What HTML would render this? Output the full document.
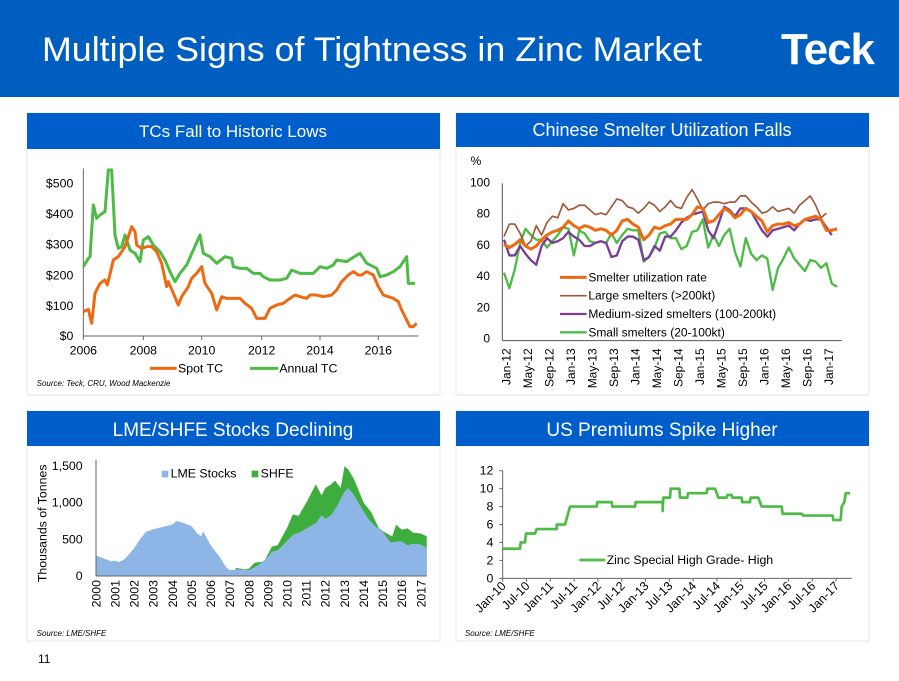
<!DOCTYPE html>
<html><head><meta charset="utf-8"><style>
html,body{margin:0;padding:0;background:#fff;}
body{width:899px;height:676px;overflow:hidden;font-family:"Liberation Sans",Arial,sans-serif;}
</style></head><body>
<svg id="s" width="899" height="676" viewBox="0 0 899 676" xmlns="http://www.w3.org/2000/svg" font-family="Liberation Sans, Arial, sans-serif">
<rect x="0" y="0" width="899" height="97" fill="#005EC0"/>
<text x="42" y="61" font-size="34" fill="#fff" textLength="660" lengthAdjust="spacingAndGlyphs">Multiple Signs of Tightness in Zinc Market</text>
<text x="781" y="64" font-size="44" font-weight="bold" fill="#fff" letter-spacing="-1">Teck</text>

<rect x="27" y="113" width="413" height="282" fill="none" stroke="#e6e6e6"/>
<rect x="456" y="113" width="413" height="282" fill="none" stroke="#e6e6e6"/>
<rect x="27" y="411" width="413" height="230" fill="none" stroke="#e6e6e6"/>
<rect x="456" y="411" width="413" height="230" fill="none" stroke="#e6e6e6"/>
<rect x="27" y="113" width="413" height="36" fill="#005ECB"/>
<rect x="456" y="113" width="413" height="34" fill="#005ECB"/>
<rect x="27" y="411" width="413" height="35" fill="#005ECB"/>
<rect x="456" y="411" width="413" height="35" fill="#005ECB"/>
<text x="233" y="137" font-size="17" fill="#fff" text-anchor="middle" font-family="Liberation Sans Narrow, Liberation Sans, sans-serif">TCs Fall to Historic Lows</text>
<text x="662" y="136" font-size="18" fill="#fff" text-anchor="middle" font-family="Liberation Sans Narrow, Liberation Sans, sans-serif">Chinese Smelter Utilization Falls</text>
<text x="233" y="436" font-size="19" fill="#fff" text-anchor="middle">LME/SHFE Stocks Declining</text>
<text x="662" y="436" font-size="19" fill="#fff" text-anchor="middle">US Premiums Spike Higher</text>
<text x="38" y="663" font-size="12" fill="#000">11</text>

<g id="c1" transform="translate(20,150) scale(0.33333)" font-size="37"></g>
<g id="c2" transform="translate(450,150) scale(0.33333)" font-size="36"></g>
<g id="c3" transform="translate(20,400) scale(0.33333)" font-size="37"></g>
<g id="c4" transform="translate(450,400) scale(0.33333)" font-size="37"></g>
</svg>
<script>
const NS="http://www.w3.org/2000/svg";
function el(g,tag,attrs,txt){const e=document.createElementNS(NS,tag);for(const k in attrs)e.setAttribute(k,attrs[k]);if(txt!==undefined)e.textContent=txt;g.appendChild(e);return e;}
function pl(g,pts,color,w){el(g,"polyline",{points:pts.map(p=>p[0].toFixed(1)+","+p[1].toFixed(1)).join(" "),fill:"none",stroke:color,"stroke-width":w,"stroke-linejoin":"round"});}
const OR="#EE6A12",GR="#4DBB45",BR="#A0573A",PU="#7A3E96";

// Chart 1
(function(){const g=document.getElementById("c1");
el(g,"line",{x1:190,y1:55,x2:190,y2:558,stroke:"#666","stroke-width":3});
el(g,"line",{x1:190,y1:558,x2:1195,y2:558,stroke:"#666","stroke-width":3});
const yl=[["$500",112],["$400",204],["$300",296],["$200",388],["$100",480],["$0",570]];
yl.forEach(a=>el(g,"text",{x:160,y:a[1],"text-anchor":"end"},a[0]));
[190,370,545,725,900,1075].forEach((x,i)=>{el(g,"text",{x:x,y:613,"text-anchor":"middle"},String(2006+2*i));el(g,"line",{x1:x,y1:558,x2:x,y2:570,stroke:"#666","stroke-width":3});});
const spot=[[190,485],[205,478],[215,520],[225,430],[240,400],[255,390],[262,405],[280,330],[295,320],[315,290],[335,230],[345,245],[350,285],[365,295],[380,290],[395,290],[410,305],[425,340],[440,410],[445,395],[460,430],[475,465],[485,440],[505,410],[515,385],[530,370],[545,350],[555,400],[575,430],[590,480],[605,440],[620,445],[640,445],[660,445],[675,460],[695,475],[710,505],[735,505],[750,475],[770,465],[790,460],[810,445],[825,435],[840,440],[860,445],[870,435],[890,435],[910,440],[935,435],[950,420],[965,395],[985,375],[1000,365],[1015,375],[1025,375],[1040,365],[1060,375],[1075,410],[1090,435],[1105,440],[1120,445],[1135,455],[1145,480],[1160,510],[1170,530],[1180,530],[1190,520]];
const ann=[[190,350],[205,325],[210,320],[220,165],[230,205],[240,195],[255,185],[265,60],[275,60],[285,255],[295,295],[305,290],[315,255],[330,300],[345,310],[360,335],[370,270],[385,260],[400,285],[420,305],[435,330],[450,365],[465,395],[480,370],[500,345],[520,300],[540,255],[550,310],[570,320],[590,340],[615,320],[635,325],[640,350],[660,355],[680,355],[700,370],[720,370],[730,380],[750,390],[780,390],[800,385],[815,360],[840,370],[880,370],[900,350],[920,355],[940,345],[950,330],[980,335],[995,325],[1020,310],[1040,340],[1070,355],[1080,380],[1100,375],[1120,365],[1140,350],[1160,320],[1165,400],[1185,400]];
pl(g,ann,GR,9);pl(g,spot,OR,9);
el(g,"line",{x1:390,y1:655,x2:470,y2:655,stroke:OR,"stroke-width":9});
el(g,"text",{x:474,y:668},"Spot TC");
el(g,"line",{x1:690,y1:655,x2:775,y2:655,stroke:GR,"stroke-width":9});
el(g,"text",{x:778,y:668},"Annual TC");
el(g,"text",{x:50,y:708,"font-size":24,"font-style":"italic"},"Source: Teck, CRU, Wood Mackenzie");
})();

// Chart 2
(function(){const g=document.getElementById("c2");
el(g,"text",{x:62,y:45},"%");
el(g,"line",{x1:157,y1:100,x2:157,y2:572,stroke:"#555","stroke-width":3});
el(g,"line",{x1:157,y1:572,x2:1175,y2:572,stroke:"#555","stroke-width":3});
[["100",110],["80",203],["60",297],["40",390],["20",485],["0",578]].forEach(a=>el(g,"text",{x:120,y:a[1],"text-anchor":"end"},a[0]));
const lab=["Jan-12","May-12","Sep-12","Jan-13","May-13","Sep-13","Jan-14","May-14","Sep-14","Jan-15","May-15","Sep-15","Jan-16","May-16","Sep-16","Jan-17"];
lab.forEach((t,i)=>{const x=170+i*64.5;el(g,"text",{x:0,y:0,"text-anchor":"end",transform:`translate(${x+12},595) rotate(-90)`},t);});
const X=m=>162+m*16.12, Y=v=>570-v*4.7;
const mk=a=>a.map((v,i)=>[X(i),Y(v)]);
const org=[61,59,61,64,60,58,60,64,67,69,70,72,76,73,71,73,72,70,71,70,67,70,76,77,74,72,64,67,72,71,73,74,77,77,77,80,85,84,75,76,80,84,82,78,80,84,82,79,76,69,73,74,74,75,73,74,77,78,79,77,70,70,71];
const brn=[66,74,74,68,60,63,73,67,75,79,78,87,83,84,86,86,83,80,81,80,85,90,89,85,84,81,84,88,86,82,85,89,85,84,91,96,90,83,87,88,88,87,88,88,92,92,88,85,81,82,85,82,83,84,81,86,89,92,86,78,81];
const pur=[64,54,54,60,55,51,48,60,65,62,63,65,69,66,64,60,60,62,63,62,53,54,63,66,66,64,51,53,60,57,66,66,70,75,78,80,81,82,70,65,75,85,83,79,84,84,82,76,70,66,70,71,72,73,70,74,77,76,77,77,72,67];
const grn=[43,33,45,62,71,67,64,64,59,63,67,72,71,54,70,68,63,62,63,62,68,62,67,71,70,70,50,53,59,68,69,65,65,58,60,69,70,77,59,67,60,67,71,56,47,65,55,51,54,52,32,46,52,59,52,48,44,51,50,46,49,36,34];
pl(g,mk(grn),GR,7);pl(g,mk(pur),PU,7);pl(g,mk(brn),BR,5);pl(g,mk(org),OR,9);
const leg=[["Smelter utilization rate",OR,9],["Large smelters (>200kt)",BR,5],["Medium-sized smelters (100-200kt)",PU,7],["Small smelters (20-100kt)",GR,7]];
leg.forEach((l,i)=>{const y=382+i*55;el(g,"line",{x1:330,y1:y,x2:410,y2:y,stroke:l[1],"stroke-width":l[2]});el(g,"text",{x:415,y:y+12},l[0]);});
})();

// Chart 3
(function(){const g=document.getElementById("c3");
const X=y=>228+57.35*(y-2000), Y=v=>528-0.22*v;
const lme=[[2000,280],[2000.5,230],[2000.8,200],[2001,210],[2001.2,190],[2001.5,230],[2002,380],[2002.3,500],[2002.6,600],[2003,640],[2003.5,670],[2004,700],[2004.2,750],[2004.5,730],[2005,680],[2005.3,580],[2005.5,540],[2005.6,610],[2006,420],[2006.5,250],[2006.8,120],[2007,80],[2007.5,90],[2008,80],[2008.5,150],[2009,260],[2009.2,330],[2009.5,350],[2010,480],[2010.3,560],[2010.7,600],[2011,650],[2011.5,720],[2011.8,830],[2012,780],[2012.3,830],[2012.6,950],[2013,1150],[2013.2,1200],[2013.5,1100],[2014,880],[2014.3,760],[2014.6,680],[2015,600],[2015.4,460],[2015.8,470],[2016,470],[2016.3,420],[2016.6,440],[2017,430],[2017.3,380]];
const sh=[[2007.3,110],[2007.8,90],[2008,100],[2008.3,180],[2008.8,200],[2009,300],[2009.2,400],[2009.5,420],[2010,660],[2010.3,840],[2010.6,820],[2011,1000],[2011.5,1250],[2011.8,1100],[2012,1200],[2012.3,1250],[2012.5,1300],[2012.8,1200],[2013,1500],[2013.2,1450],[2013.5,1320],[2014,1000],[2014.4,870],[2014.8,650],[2015,610],[2015.5,540],[2015.7,700],[2016,630],[2016.3,650],[2016.6,590],[2017,580],[2017.3,540]];
let d="M"+X(2007.3)+","+Y(0)+" "+sh.map(p=>"L"+X(p[0]).toFixed(1)+","+Y(p[1]).toFixed(1)).join(" ")+" L"+X(2017.3)+","+Y(0)+"Z";
el(g,"path",{d:d,fill:"#3DAE3D"});
d="M"+X(2000)+","+Y(0)+" "+lme.map(p=>"L"+X(p[0]).toFixed(1)+","+Y(p[1]).toFixed(1)).join(" ")+" L"+X(2017.3)+","+Y(0)+"Z";
el(g,"path",{d:d,fill:"#8DB6E6"});
el(g,"line",{x1:228,y1:180,x2:228,y2:528,stroke:"#666","stroke-width":3});
el(g,"line",{x1:228,y1:528,x2:1220,y2:528,stroke:"#666","stroke-width":3});
[["1,500",210],["1,000",320],["500",430],["0",540]].forEach(a=>el(g,"text",{x:188,y:a[1],"text-anchor":"end"},a[0]));
for(let k=0;k<=17;k++){const x=X(2000+k);el(g,"text",{x:0,y:0,"text-anchor":"end",transform:`translate(${x+13},540) rotate(-90)`},String(2000+k));}
el(g,"text",{x:0,y:0,"text-anchor":"middle",transform:"translate(80,370) rotate(-90)"},"Thousands of Tonnes");
el(g,"rect",{x:425,y:212,width:20,height:20,fill:"#8DB6E6"});
el(g,"text",{x:452,y:233},"LME Stocks");
el(g,"rect",{x:695,y:212,width:20,height:20,fill:"#3DAE3D"});
el(g,"text",{x:722,y:233},"SHFE");
el(g,"text",{x:50,y:708,"font-size":24,"font-style":"italic"},"Source: LME/SHFE");
})();

// Chart 4
(function(){const g=document.getElementById("c4");
el(g,"line",{x1:158,y1:212,x2:158,y2:535,stroke:"#666","stroke-width":3});
el(g,"line",{x1:158,y1:535,x2:1205,y2:535,stroke:"#666","stroke-width":3});
for(let v=0;v<=12;v+=2){const y=535-v*26.9;el(g,"text",{x:130,y:y+12,"text-anchor":"end"},String(v));el(g,"line",{x1:148,y1:y,x2:158,y2:y,stroke:"#666","stroke-width":3});}
const lab=["Jan-10","Jul-10","Jan-11","Jul-11","Jan-12","Jul-12","Jan-13","Jul-13","Jan-14","Jul-14","Jan-15","Jul-15","Jan-16","Jul-16","Jan-17"];
lab.forEach((t,i)=>{const x=158+i*71.43;el(g,"line",{x1:x,y1:535,x2:x,y2:545,stroke:"#666","stroke-width":3});el(g,"text",{x:0,y:0,"text-anchor":"end",transform:`translate(${x+12},560) rotate(-45)`},t);});
const Y=v=>535-v*26.9;
const s=[[158,3.3],[210,3.3],[212,4],[225,4],[228,5],[255,5],[260,5.5],[320,5.5],[320,6],[345,6],[360,8],[440,8],[442,8.5],[485,8.5],[487,8],[555,8],[557,8.5],[638,8.5],[638,7.5],[640,9],[660,9],[662,10],[688,10],[690,9],[712,9],[714,9.5],[770,9.5],[772,10],[795,10],[800,9.5],[805,9],[830,9],[832,9.3],[845,9.3],[847,9],[875,9],[877,8.5],[900,8.5],[902,9],[925,9],[935,8],[995,8],[998,7.2],[1055,7.2],[1060,7],[1148,7],[1150,6.5],[1172,6.5],[1175,8],[1183,8.5],[1187,9.5],[1200,9.5]];
pl(g,s.map(p=>[p[0],Y(p[1])]),GR,8);
el(g,"line",{x1:388,y1:480,x2:465,y2:480,stroke:GR,"stroke-width":8});
el(g,"text",{x:470,y:492},"Zinc Special High Grade- High");
el(g,"text",{x:45,y:708,"font-size":24,"font-style":"italic"},"Source: LME/SHFE");
})();
</script>
</body></html>
